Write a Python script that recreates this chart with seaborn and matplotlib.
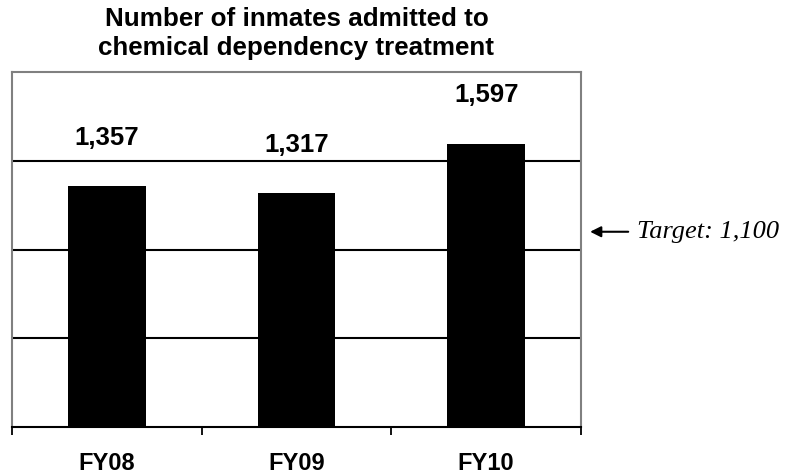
import matplotlib
matplotlib.use("Agg")
import matplotlib.pyplot as plt
import matplotlib.transforms as mtransforms
import seaborn as sns
import pandas as pd

# Chart data
years = ["FY08", "FY09", "FY10"]
admitted = [1357, 1317, 1597]
target_value = 1100
target_label = "Target: 1,100"
title = "Number of inmates admitted to\nchemical dependency treatment"

df = pd.DataFrame({"year": years, "admitted": admitted})

sns.set_theme(style="white")
plt.rcParams["font.family"] = ["Liberation Sans", "DejaVu Sans"]
plt.rcParams["text.color"] = "black"
plt.rcParams["xtick.color"] = "black"
plt.rcParams["xtick.labelcolor"] = "black"

fig = plt.figure(figsize=(7.86, 4.74), dpi=100)
ax = fig.add_axes([12 / 786, 47 / 474, 569 / 786, 355 / 474])

sns.barplot(data=df, x="year", y="admitted", color="black", width=0.41,
            saturation=1, edgecolor="black", linewidth=0, ax=ax, zorder=3)

ax.set_ylim(0, 2000)
ax.set_xlim(-0.5, len(years) - 0.5)

# Horizontal gridlines
for yv in (500, 1000, 1500):
    ax.axhline(yv, color="black", lw=1.5, zorder=1)

# Frame
for side in ("left", "right", "top"):
    ax.spines[side].set_color("#808080")
    ax.spines[side].set_linewidth(1.5)
ax.spines["bottom"].set_color("black")
ax.spines["bottom"].set_linewidth(1.5)

# Category boundaries carry the tick marks, centers carry the labels
ax.set_yticks([])
ax.set_xticks([i - 0.5 for i in range(len(years) + 1)])
ax.set_xticklabels([])
ax.set_xticks(range(len(years)), minor=True)
ax.set_xticklabels(years, minor=True, fontsize=17, fontweight="bold")
ax.tick_params(axis="x", which="major", direction="out", length=6, width=1.3,
               color="black", bottom=True)
ax.tick_params(axis="x", which="minor", length=0, pad=18)
ax.set_xlabel("")
ax.set_ylabel("")

# Value labels above bars
for i, v in enumerate(admitted):
    ax.annotate(f"{v:,}", xy=(i, v), xytext=(0, 35), textcoords="offset points",
                ha="center", va="center", fontsize=18.5, fontweight="bold")

ax.set_title(title, fontsize=18.7, fontweight="bold", pad=12.5, linespacing=1.22)

# Target marker outside the plot area
trans = mtransforms.blended_transform_factory(ax.transAxes, ax.transData)
ax.annotate("", xy=(1.016, target_value), xycoords=trans,
            xytext=(1.083, target_value), textcoords=trans,
            arrowprops=dict(arrowstyle="-|>", color="black", lw=1.5,
                            mutation_scale=16, shrinkA=0, shrinkB=0),
            annotation_clip=False)
ax.text(1.098, target_value, target_label, transform=trans, ha="left",
        va="center", fontsize=19, fontstyle="italic",
        family=["Liberation Serif", "DejaVu Serif"], clip_on=False)

fig.savefig("out.png", dpi=100)
